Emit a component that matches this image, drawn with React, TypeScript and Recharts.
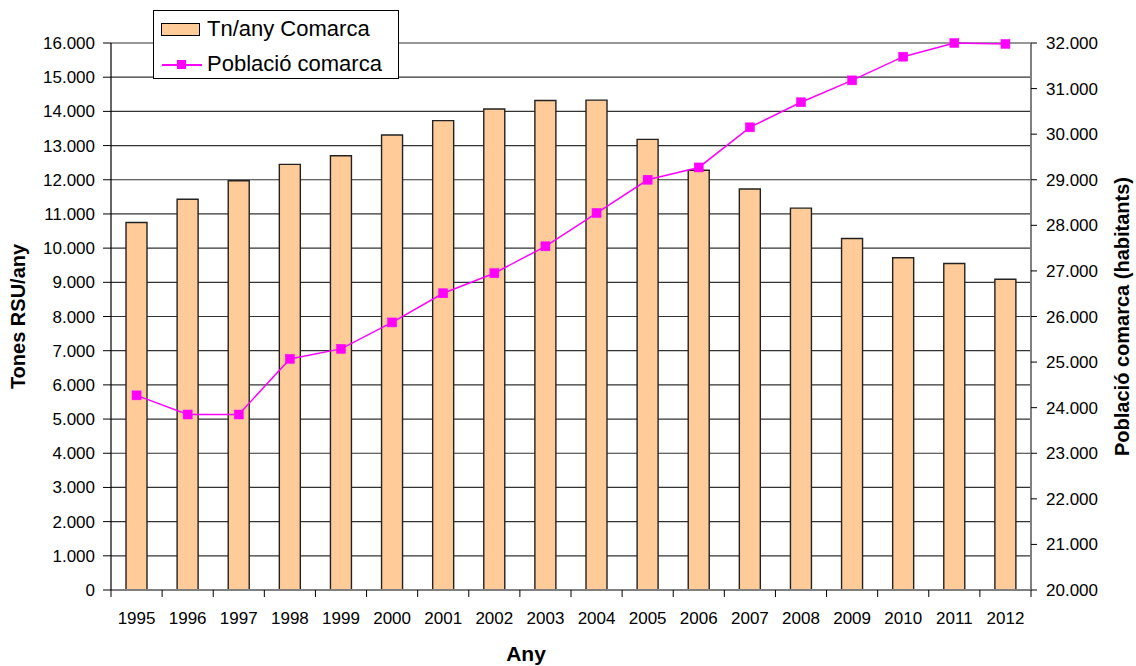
import React from 'react';
import { ComposedChart, Bar, Line, XAxis, YAxis, CartesianGrid } from 'recharts';

const years = ['1995','1996','1997','1998','1999','2000','2001','2002','2003','2004','2005','2006','2007','2008','2009','2010','2011','2012'];
const tones = [10750, 11430, 11970, 12450, 12700, 13310, 13730, 14070, 14320, 14330, 13180, 12280, 11730, 11170, 10280, 9720, 9550, 9090];
const poblacio = [24270, 23850, 23850, 25070, 25290, 25870, 26510, 26950, 27540, 28270, 29000, 29270, 30150, 30700, 31180, 31700, 32000, 31980];
const leftTicks = [0,1000,2000,3000,4000,5000,6000,7000,8000,9000,10000,11000,12000,13000,14000,15000,16000];
const rightTicks = [20000,21000,22000,23000,24000,25000,26000,27000,28000,29000,30000,31000,32000];

const data = years.map((y, i) => ({ year: y, tones: tones[i], poblacio: poblacio[i] }));

const FONT = '"Liberation Sans", Arial, sans-serif';
const fmt = (v: number) => (v === 0 ? '0' : String(v).replace(/\B(?=(\d{3})+(?!\d))/g, '.'));

const XTick = (props: any) => {
  const { x, y, payload, index, width, visibleTicksCount } = props;
  const n = visibleTicksCount || years.length;
  const half = (width || 920) / n / 2;
  return (
    <g>
      <line x1={x - half} y1={y} x2={x - half} y2={y + 7} stroke="#000" strokeWidth={1} />
      {index === n - 1 && <line x1={x + half} y1={y} x2={x + half} y2={y + 7} stroke="#000" strokeWidth={1} />}
      <text x={x} y={y + 28} textAnchor="middle" fontSize={17} fontFamily={FONT} fill="#000" dominantBaseline="central">
        {payload.value}
      </text>
    </g>
  );
};

const SquareDot = (props: any) => {
  const { cx, cy } = props;
  if (cx == null || cy == null) return null;
  return <rect x={cx - 4.5} y={cy - 4.5} width={9} height={9} fill="#FF00FF" stroke="#FF00FF" strokeWidth={0.5} />;
};

export default function App() {
  return (
    <div style={{ position: 'absolute', left: 0, top: 0, width: 1136, height: 666, background: '#fff' }}>
      <ComposedChart width={1136} height={666} data={data} margin={{ top: 43, right: 0, left: 0, bottom: 0 }} barCategoryGap={0}>
        <CartesianGrid yAxisId="left" vertical={false} horizontal={true} stroke="#333" strokeWidth={1.2} />
        <XAxis
          dataKey="year"
          height={76}
          tickLine={false}
          tickSize={0}
          tickMargin={0}
          axisLine={{ stroke: '#808080', strokeWidth: 2 }}
          tick={<XTick />}
          interval={0}
          label={() => (
            <text x={526} y={653} textAnchor="middle" dominantBaseline="central" fontSize={21} fontWeight="bold" fontFamily={FONT} fill="#000">
              Any
            </text>
          )}
        />
        <YAxis
          yAxisId="left"
          orientation="left"
          width={111}
          domain={[0, 16000]}
          ticks={leftTicks}
          interval={0}
          tickFormatter={fmt}
          tick={{ fill: '#000', fontSize: 17, fontFamily: FONT }}
          tickSize={8}
          tickMargin={8}
          axisLine={{ stroke: '#000', strokeWidth: 1.2 }}
          tickLine={{ stroke: '#000' }}
          label={(p: any) => {
            const vb = p.viewBox || { x: 0, y: 43, width: 111, height: 547 };
            const cx = vb.x + 18;
            const cy = vb.y + vb.height / 2;
            return (
              <text x={cx} y={cy} transform={`rotate(-90 ${cx} ${cy})`} textAnchor="middle" dominantBaseline="central" fontSize={20} fontWeight="bold" fontFamily={FONT} fill="#000">
                Tones RSU/any
              </text>
            );
          }}
        />
        <YAxis
          yAxisId="right"
          orientation="right"
          width={105}
          domain={[20000, 32000]}
          ticks={rightTicks}
          interval={0}
          tickFormatter={fmt}
          tick={{ fill: '#000', fontSize: 17, fontFamily: FONT }}
          tickSize={6}
          tickMargin={9}
          axisLine={{ stroke: '#808080', strokeWidth: 2 }}
          tickLine={{ stroke: '#000' }}
          label={(p: any) => {
            const vb = p.viewBox || { x: 1031, y: 43, width: 105, height: 547 };
            const cx = vb.x + 91;
            const cy = vb.y + vb.height / 2;
            return (
              <text x={cx} y={cy} transform={`rotate(-90 ${cx} ${cy})`} textAnchor="middle" dominantBaseline="central" fontSize={20} fontWeight="bold" fontFamily={FONT} fill="#000">
                Població comarca (habitants)
              </text>
            );
          }}
        />
        <Bar yAxisId="left" dataKey="tones" name="Tn/any Comarca" fill="#FFCC99" stroke="#222" strokeWidth={1.4} barSize={21} isAnimationActive={false} />
        <Line yAxisId="right" dataKey="poblacio" name="Població comarca" stroke="#FF00FF" strokeWidth={1.5} dot={<SquareDot />} activeDot={false} isAnimationActive={false} />
      </ComposedChart>
      <div
        style={{
          position: 'absolute', left: 153, top: 10, width: 244, height: 67,
          border: '1px solid #000', background: '#fff', fontFamily: FONT, fontSize: 22, color: '#000',
        }}
      >
        <div style={{ position: 'absolute', left: 7, top: 12, width: 37, height: 11, background: '#FFCC99', border: '1.3px solid #000' }} />
        <div style={{ position: 'absolute', left: 53, top: 3, lineHeight: '30px', whiteSpace: 'nowrap' }}>Tn/any Comarca</div>
        <div style={{ position: 'absolute', left: 8, top: 53, width: 40, height: 1.5, background: '#FF00FF' }} />
        <div style={{ position: 'absolute', left: 23, top: 49, width: 9, height: 9, background: '#FF00FF' }} />
        <div style={{ position: 'absolute', left: 53, top: 38, lineHeight: '30px', whiteSpace: 'nowrap' }}>Població comarca</div>
      </div>
    </div>
  );
}
